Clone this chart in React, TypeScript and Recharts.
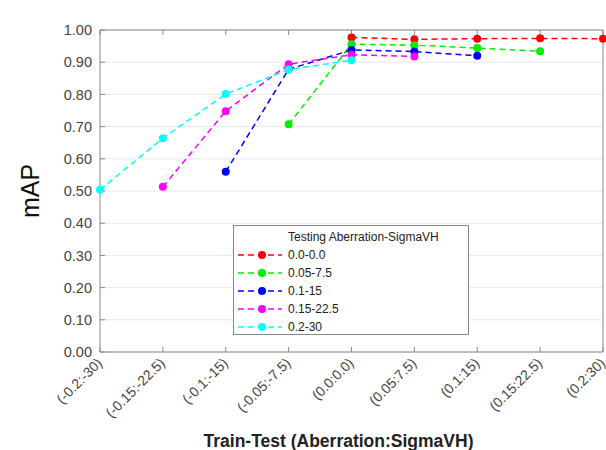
import { LineChart, Line, XAxis, YAxis, CartesianGrid, Legend } from 'recharts';

const categories = [
  '(-0.2:-30)',
  '(-0.15:-22.5)',
  '(-0.1:-15)',
  '(-0.05:-7.5)',
  '(0.0:0.0)',
  '(0.05:7.5)',
  '(0.1:15)',
  '(0.15:22.5)',
  '(0.2:30)',
];

// null where a series has no point
const s00 = [null, null, null, null, 0.977, 0.971, 0.973, 0.974, 0.973];
const s05 = [null, null, null, 0.707, 0.956, 0.953, 0.944, 0.934, null];
const s10 = [null, null, 0.56, 0.878, 0.938, 0.933, 0.92, null, null];
const s15 = [null, 0.513, 0.748, 0.894, 0.923, 0.918, null, null, null];
const s20 = [0.504, 0.664, 0.801, 0.877, 0.906, null, null, null, null];

const yTicks = [0, 0.1, 0.2, 0.3, 0.4, 0.5, 0.6, 0.7, 0.8, 0.9, 1.0];

const series = [
  { key: 's00', name: '0.0-0.0', color: '#ff0000', values: s00 },
  { key: 's05', name: '0.05-7.5', color: '#00ee00', values: s05 },
  { key: 's10', name: '0.1-15', color: '#0000ff', values: s10 },
  { key: 's15', name: '0.15-22.5', color: '#ff00ff', values: s15 },
  { key: 's20', name: '0.2-30', color: '#00ffff', values: s20 },
];

const data = categories.map((cat, i) => {
  const row: Record<string, any> = { cat };
  series.forEach((s) => {
    row[s.key] = s.values[i];
  });
  return row;
});

const FONT = "'Liberation Sans', Arial, sans-serif";

const XTick = (props: any) => {
  const { x, y, payload } = props;
  const tx = x + 3;
  const ty = y + 15;
  return (
    <text
      x={tx}
      y={ty}
      transform={`rotate(-45 ${tx} ${ty})`}
      textAnchor="end"
      fontSize={14}
      fill="#444"
      fontFamily={FONT}
    >
      {payload.value}
    </text>
  );
};

const LegendBox = () => (
  <div
    style={{
      width: 236,
      height: 110,
      border: '1px solid #888',
      background: '#fff',
      fontFamily: FONT,
      fontSize: 12,
      lineHeight: '18px',
      color: '#222',
      boxSizing: 'border-box',
      textAlign: 'left',
      paddingTop: 2,
    }}
  >
    <div style={{ paddingLeft: 54, whiteSpace: 'nowrap' }}>Testing Aberration-SigmaVH</div>
    {series.map((s) => (
      <div key={s.key} style={{ display: 'flex', alignItems: 'center', height: 18, paddingLeft: 3 }}>
        <svg width={46} height={16} style={{ display: 'block' }}>
          <line x1={1} y1={8} x2={45} y2={8} stroke={s.color} strokeWidth={1.5} strokeDasharray="6 4" />
          <circle cx={25} cy={8} r={4} fill={s.color} />
        </svg>
        <span style={{ marginLeft: 5, whiteSpace: 'nowrap' }}>{s.name}</span>
      </div>
    ))}
  </div>
);

export default function App() {
  return (
    <div style={{ position: 'absolute', left: 0, top: 0, width: 606, height: 450, background: '#fff' }}>
      <LineChart width={606} height={450} data={data} margin={{ top: 29, right: 2, left: 0, bottom: 0 }}>
        <CartesianGrid yAxisId="left" vertical={false} stroke="#e8e8e8" />
        <XAxis
          dataKey="cat"
          height={98}
          interval={0}
          tick={<XTick />}
          tickSize={-5}
          stroke="#888"
          label={{
            value: 'Train-Test (Aberration:SigmaVH)',
            position: 'insideBottom',
            offset: 3,
            dx: -13,
            fontSize: 17.5,
            fontWeight: 'bold',
            fill: '#222',
            fontFamily: FONT,
          }}
        />
        <XAxis
          xAxisId="top"
          dataKey="cat"
          orientation="top"
          height={1}
          interval={0}
          tickSize={-5}
          tickFormatter={() => ''}
          stroke="#888"
        />
        <YAxis
          yAxisId="left"
          width={100}
          domain={[0, 1]}
          ticks={yTicks}
          interval={0}
          tickFormatter={(v: number) => v.toFixed(2)}
          tickSize={-5}
          tickMargin={13}
          stroke="#888"
          tick={{ fill: '#444', fontSize: 14.5, fontFamily: FONT }}
          label={{
            value: 'mAP',
            angle: -90,
            position: 'insideLeft',
            offset: 30,
            fontSize: 25,
            fill: '#111',
            fontFamily: FONT,
            style: { textAnchor: 'middle' },
          }}
        />
        <YAxis
          yAxisId="right"
          orientation="right"
          width={1}
          domain={[0, 1]}
          ticks={yTicks}
          interval={0}
          tickSize={-5}
          tickFormatter={() => ''}
          stroke="#888"
        />
        <Legend
          layout="vertical"
          align="center"
          verticalAlign="middle"
          content={<LegendBox />}
          wrapperStyle={{ position: 'absolute', left: 233, top: 225, width: 236, height: 110 }}
        />
        {series.map((s) => (
          <Line
            key={s.key}
            yAxisId="left"
            type="linear"
            dataKey={s.key}
            name={s.name}
            stroke={s.color}
            strokeWidth={1.5}
            strokeDasharray="6 4"
            dot={{ r: 4, fill: s.color, stroke: s.color, strokeWidth: 0 }}
            activeDot={false}
            isAnimationActive={false}
          />
        ))}
      </LineChart>
    </div>
  );
}
